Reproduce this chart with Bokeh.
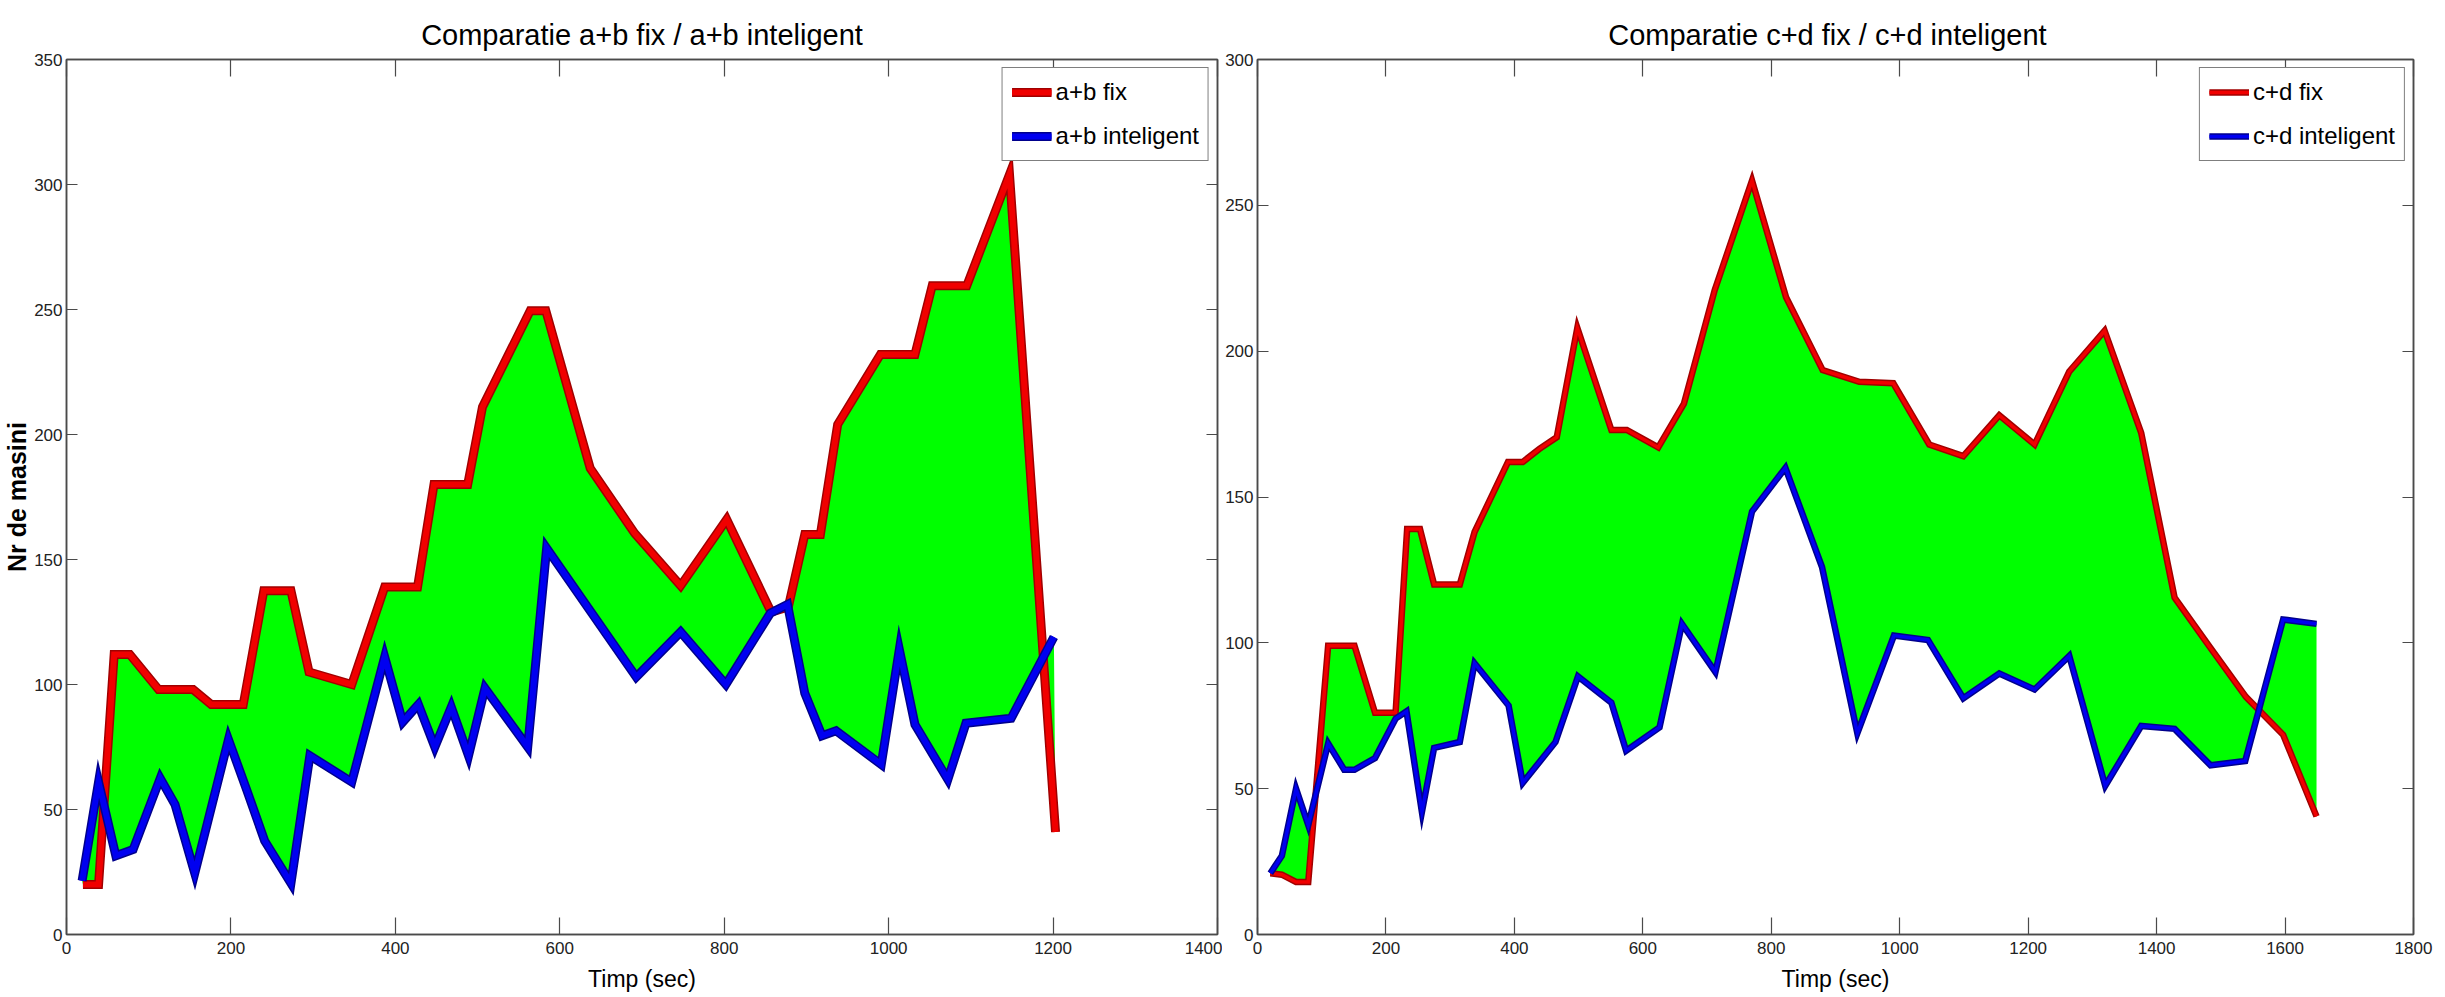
from bokeh.plotting import figure
from bokeh.models import (Range1d, FixedTicker, LinearAxis, Legend, LegendItem,
                          CustomJSTickFormatter)
from bokeh.layouts import row
from bokeh.embed import file_html
from bokeh.resources import INLINE

# ---------------- data ----------------
# left chart: a+b
x_ab_fix = [20, 39, 58, 77, 112, 154, 176, 215, 240, 273, 295, 347, 387, 427, 447, 488,
            506, 564, 583, 637, 691, 747, 803, 857, 878, 898, 917, 938, 990, 1032, 1053,
            1095, 1147, 1203]
y_ab_fix = [20, 20, 112, 112, 98, 98, 92, 92, 137.5, 137.5, 105, 100, 139, 139, 180, 180,
            211, 249.5, 249.5, 186.5, 160.5, 139.5, 166, 129, 131, 160, 160, 204, 232, 232,
            259.5, 259.5, 304, 41]
x_ab_int = [19, 39, 60, 81, 114, 132, 156, 197, 219, 241, 273, 296, 347, 387, 409, 428,
            448, 468, 489, 509, 561, 584, 693, 747, 802, 856, 877, 898, 919, 936, 991,
            1013, 1032, 1072, 1094, 1149, 1201]
y_ab_int = [21.5, 61, 31.5, 34, 62.5, 52, 24.5, 78, 58, 37.5, 20.5, 71.5, 61, 111, 85, 92,
            75, 91, 71.5, 98.5, 75, 154.5, 103, 121, 100, 128.5, 132, 96.5, 79.5, 81.5, 68,
            114, 84, 62, 84.5, 86.5, 119]

# right chart: c+d
x_cd_fix = [20, 38, 60, 79, 110, 151, 183, 215, 233, 253, 275, 315, 338, 390, 413, 439,
            466, 498, 551, 575, 624, 664, 712, 770, 823, 880, 937, 990, 1046, 1099, 1155,
            1210, 1264, 1319, 1376, 1428, 1483, 1539, 1597, 1649]
y_cd_fix = [21, 20.5, 18, 18, 99, 99, 76, 76, 139, 139, 120, 120, 138, 162, 162, 166.5,
            170.5, 208, 173, 173, 167, 182, 221, 258.5, 218.5, 193.5, 189.5, 189, 168, 164,
            178, 168, 193, 207, 172, 115.5, 98.5, 81.5, 68.5, 40.5]
x_cd_int = [20, 38, 60, 79, 110, 135, 151, 183, 215, 232, 256, 275, 315, 338, 391, 413,
            464, 499, 551, 574, 626, 661, 713, 770, 822, 879, 934, 991, 1044, 1099, 1155,
            1210, 1264, 1320, 1376, 1428, 1484, 1538, 1597, 1649]
y_cd_int = [21, 27, 50, 37.5, 65.5, 56.5, 56.5, 60.5, 74, 76.5, 42, 64, 66, 93, 78.5, 52,
            66, 88.5, 79.5, 63, 71, 106.5, 90, 145, 160, 126, 69, 102.5, 101, 81, 89.5, 84,
            95.5, 51, 71.5, 70.5, 58, 59.5, 108, 106.5]

ab_ticks_x = [0, 200, 400, 600, 800, 1000, 1200, 1400]
ab_ticks_y = [0, 50, 100, 150, 200, 250, 300, 350]
cd_ticks_x = [0, 200, 400, 600, 800, 1000, 1200, 1400, 1600, 1800]
cd_ticks_y = [0, 50, 100, 150, 200, 250, 300]

FONT = "Liberation Sans"
AX_COL = "#4a4a4a"


def make_plot(title, xf, yf, xi, yi, lab_f, lab_i, xmax, ymax, xt, yt,
              width, borders, ylabel, lw):
    bl, br, bt, bb = borders
    p = figure(width=width, height=996, x_range=Range1d(0, xmax), y_range=Range1d(0, ymax),
               output_backend="svg", toolbar_location=None,
               min_border_left=bl, min_border_right=br, min_border_top=bt,
               min_border_bottom=bb, background_fill_color="white",
               border_fill_color="white")
    p.title.text = title
    p.title.align = "center"
    p.title.vertical_align = "top"
    p.title.text_font = FONT
    p.title.text_font_size = "29px"
    p.title.text_font_style = "normal"
    p.title.text_color = "black"
    p.title.standoff = 14
    p.xgrid.visible = False
    p.ygrid.visible = False
    p.outline_line_color = AX_COL
    p.outline_line_width = 1.5

    # fill between the two series
    p.patch(xf + xi[::-1], yf + yi[::-1], fill_color="#00ff00", line_color=None)
    r_f0 = p.line(xf, yf, line_color="#a00000", line_width=lw + 3, line_join="miter")
    r_f1 = p.line(xf, yf, line_color="#f00000", line_width=lw, line_join="miter")
    r_i0 = p.line(xi, yi, line_color="#00008c", line_width=lw + 3, line_join="miter")
    r_i1 = p.line(xi, yi, line_color="#0000f0", line_width=lw, line_join="miter")

    xa = p.xaxis[0]
    ya = p.yaxis[0]
    for ax, ticks, tl in ((xa, xt, 17), (ya, yt, 11)):
        ax.ticker = FixedTicker(ticks=ticks)
        ax.major_tick_in = tl
        ax.major_tick_out = 0
        ax.minor_tick_in = 0
        ax.minor_tick_out = 0
        ax.axis_line_color = AX_COL
        ax.axis_line_width = 1.5
        ax.major_tick_line_color = AX_COL
        ax.major_tick_line_width = 1.2
        ax.major_label_text_font = FONT
        ax.major_label_text_font_size = "17px"
        ax.major_label_text_color = "#222222"
    xa.major_label_standoff = 7
    ya.major_label_standoff = 4
    xa.axis_label = "Timp (sec)"
    xa.axis_label_text_font = FONT
    xa.axis_label_text_font_size = "23px"
    xa.axis_label_text_font_style = "normal"
    xa.axis_label_text_color = "black"
    xa.axis_label_standoff = 9
    if ylabel:
        ya.axis_label = ylabel
        ya.axis_label_text_font = FONT
        ya.axis_label_text_font_size = "25px"
        ya.axis_label_text_font_style = "bold"
        ya.axis_label_text_color = "black"
        ya.axis_label_standoff = 0

    # box axes (ticks only) on top and right
    for loc, ticks, tl in (("above", xt, 17), ("right", yt, 11)):
        ax = LinearAxis(ticker=FixedTicker(ticks=ticks),
                        formatter=CustomJSTickFormatter(code="return ''"))
        ax.major_tick_in = tl
        ax.major_tick_out = 0
        ax.minor_tick_in = 0
        ax.minor_tick_out = 0
        ax.major_label_text_font_size = "0px"
        ax.major_label_standoff = 0
        ax.axis_line_color = AX_COL
        ax.axis_line_width = 1.5
        ax.major_tick_line_color = AX_COL
        ax.major_tick_line_width = 1.2
        p.add_layout(ax, loc)

    leg = Legend(items=[LegendItem(label=lab_f, renderers=[r_f0, r_f1]),
                        LegendItem(label=lab_i, renderers=[r_i0, r_i1])],
                 location="top_right")
    leg.margin = 8
    leg.padding = 9
    leg.spacing = 14
    leg.glyph_width = 40
    leg.glyph_height = 30
    leg.label_height = 30
    leg.label_standoff = 4
    leg.label_text_font = FONT
    leg.label_text_font_size = "24px"
    leg.label_text_color = "black"
    leg.border_line_color = "black"
    leg.border_line_width = 1.5
    leg.background_fill_color = "white"
    leg.background_fill_alpha = 1.0
    p.add_layout(leg)
    return p


p1 = make_plot("Comparatie a+b fix / a+b inteligent", x_ab_fix, y_ab_fix, x_ab_int, y_ab_int,
               "a+b fix", "a+b inteligent", 1400, 350, ab_ticks_x, ab_ticks_y,
               1222, (63, 5, 58, 61), "Nr de masini", 6)
p2 = make_plot("Comparatie  c+d fix /  c+d inteligent", x_cd_fix, y_cd_fix, x_cd_int, y_cd_int,
               "c+d fix", "c+d inteligent", 1800, 300, cd_ticks_x, cd_ticks_y,
               1222, (31, 31, 59, 62), None, 3.5)

layout = row(p1, p2)
open("out.html", "w").write(file_html(layout, INLINE))
